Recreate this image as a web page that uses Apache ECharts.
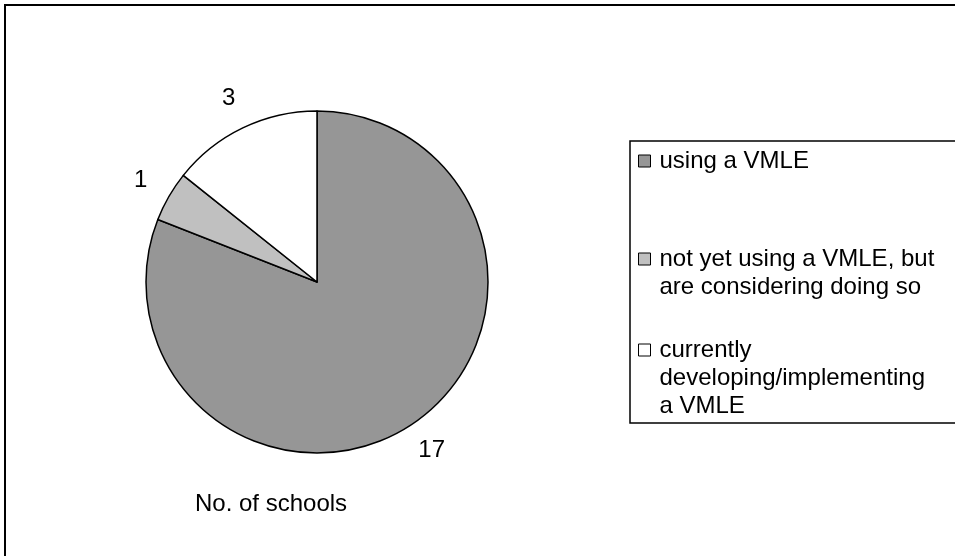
<!DOCTYPE html>
<html>
<head>
<meta charset="utf-8">
<script src="https://cdn.jsdelivr.net/npm/echarts@6/dist/echarts.min.js"></script>
<style>
  html, body { margin: 0; padding: 0; background: #fff; }
  #main { width: 955px; height: 556px; }
</style>
</head>
<body>
<div id="main"></div>
<script>
// data
const categories = [
  'using a VMLE',
  'not yet using a VMLE, but are considering doing so',
  'currently developing/implementing a VMLE'
]
const schools = [17, 1, 3]
const sliceColors = ['#969696', '#c0c0c0', '#ffffff']
// how the legend text is wrapped in the original
const legendLines = [
  ['using a VMLE'],
  ['not yet using a VMLE, but', 'are considering doing so'],
  ['currently', 'developing/implementing', 'a VMLE']
]

const FONT = 'Liberation Sans, Arial, sans-serif'
const LINE_H = 28
const firstLineY = [161, 259, 350]

const pieData = categories.map((name, i) => ({
  name: name,
  value: schools[i],
  itemStyle: { color: sliceColors[i] }
}))

// one legend per entry so the key sits beside the first line of text
const legends = categories.map((name, i) => {
  const n = legendLines[i].length
  return {
    data: [name],
    orient: 'vertical',
    left: 638,
    top: firstLineY[i] - (n - 0.5) * LINE_H,
    padding: 0,
    itemWidth: 12,
    itemHeight: 12,
    icon: 'rect',
    itemStyle: { borderColor: '#000', borderWidth: 1 },
    selectedMode: false,
    formatter: function () {
      // empty lines in front keep the key level with the first line
      return '\n'.repeat(n - 1) + legendLines[i].join('\n')
    },
    textStyle: {
      fontFamily: FONT,
      fontSize: 24,
      color: '#000',
      lineHeight: LINE_H,
      padding: [0, 0, 0, 4]
    }
  }
})

const myChart = echarts.init(document.getElementById('main'))
myChart.setOption({
  backgroundColor: '#fff',
  animation: false,
  title: {
    text: 'No. of schools',
    left: 195,
    top: 492,
    padding: 0,
    textStyle: { fontFamily: FONT, fontSize: 24, fontWeight: 'normal', color: '#000' }
  },
  legend: legends,
  graphic: [
    {
      type: 'rect',
      shape: { x: 5, y: 5, width: 970, height: 570 },
      style: { fill: 'none', stroke: '#000', lineWidth: 2 },
      silent: true
    },
    {
      type: 'rect',
      shape: { x: 630, y: 141, width: 340, height: 282 },
      style: { fill: 'none', stroke: '#000', lineWidth: 1.5 },
      silent: true
    }
  ],
  series: [
    {
      type: 'pie',
      center: [317, 282],
      radius: 171,
      startAngle: 90,
      clockwise: true,
      label: { show: false },
      labelLine: { show: false },
      itemStyle: { borderColor: '#000', borderWidth: 1.5 },
      emphasis: { disabled: true },
      data: pieData
    },
    {
      // transparent ring that carries the value labels just outside the pie
      type: 'pie',
      center: [317, 282],
      radius: [171, 230],
      startAngle: 90,
      clockwise: true,
      silent: true,
      itemStyle: { color: 'rgba(0,0,0,0)', borderWidth: 0 },
      label: {
        show: true,
        position: 'inside',
        formatter: '{c}',
        fontFamily: FONT,
        fontSize: 24,
        color: '#000'
      },
      labelLine: { show: false },
      emphasis: { disabled: true },
      data: categories.map((name, i) => ({ name: name, value: schools[i] }))
    }
  ]
})
</script>
</body>
</html>
